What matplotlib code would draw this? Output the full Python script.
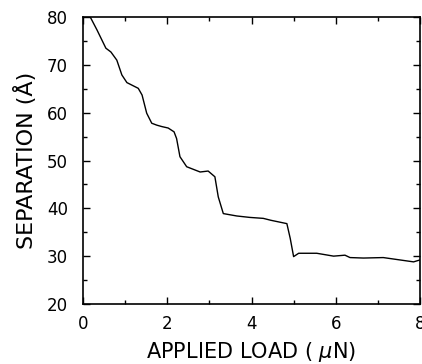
import matplotlib
matplotlib.use('Agg')
import matplotlib.pyplot as plt
from matplotlib.ticker import MultipleLocator

# Load (uN) vs separation (Angstrom)
load = [0.10, 0.17, 0.33, 0.54, 0.66, 0.80, 0.92, 1.04, 1.31, 1.40, 1.51, 1.63,
        1.75, 1.87, 2.02, 2.16, 2.22, 2.30, 2.46, 2.78, 2.97, 3.13, 3.21, 3.33,
        3.65, 3.96, 4.28, 4.46, 4.84, 4.92, 5.00, 5.12, 5.55, 5.95, 6.22, 6.34,
        6.66, 7.13, 7.53, 7.85, 8.00]
separation = [80.4, 80.0, 77.3, 73.5, 72.7, 71.0, 67.9, 66.3, 65.1, 63.7, 59.9, 57.8,
              57.4, 57.1, 56.8, 56.0, 54.6, 50.8, 48.7, 47.6, 47.8, 46.6, 42.4, 38.9,
              38.4, 38.1, 37.9, 37.5, 36.8, 33.7, 29.9, 30.6, 30.6, 30.0, 30.2, 29.7,
              29.6, 29.7, 29.2, 28.8, 29.2]

plt.rcParams['font.family'] = ['DejaVu Sans']

fig = plt.figure(figsize=(4.22, 3.64), dpi=100)
ax = fig.add_axes([0.197, 0.165, 0.798, 0.788])

ax.plot(load, separation, color='black', linewidth=1.0)

ax.set_xlim(0, 8)
ax.set_ylim(20, 80)
ax.xaxis.set_major_locator(MultipleLocator(2))
ax.xaxis.set_minor_locator(MultipleLocator(1))
ax.yaxis.set_major_locator(MultipleLocator(10))
ax.yaxis.set_minor_locator(MultipleLocator(5))
ax.tick_params(which='both', direction='in', top=True, right=True, labelsize=12)
ax.tick_params(axis='x', pad=8)
ax.tick_params(axis='y', pad=11)
ax.tick_params(which='major', length=5, width=1)
ax.tick_params(which='minor', length=3, width=1)
for s in ax.spines.values():
    s.set_linewidth(1.2)

ax.set_xlabel('APPLIED LOAD ( $\\mu$N)', fontsize=15, va='center')
ax.xaxis.set_label_coords(0.5, -0.168)
ax.set_ylabel('SEPARATION (Å)', fontsize=16, va='center')
ax.yaxis.set_label_coords(-0.172, 0.5)

fig.savefig('out.png', dpi=100)
